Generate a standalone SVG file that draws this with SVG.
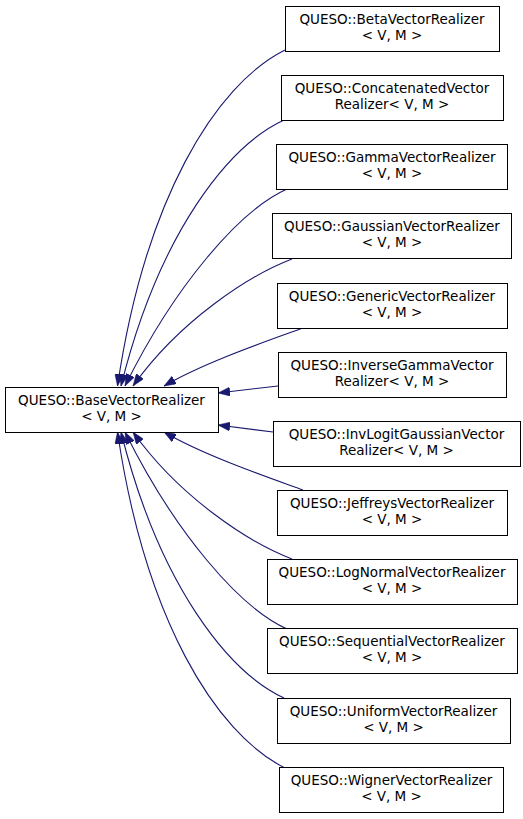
<svg xmlns="http://www.w3.org/2000/svg" width="523" height="819" viewBox="0 0 523 819">
<defs>
<style>
.node rect{fill:#ffffff;stroke:#000000;stroke-width:1}
.node text{font-family:"DejaVu Sans","Liberation Sans",sans-serif;font-size:13.5px;fill:#000000;text-anchor:middle}
.edges path{fill:none;stroke:#191970;stroke-width:1.1;marker-end:url(#arr)}
</style>
<marker id="arr" markerUnits="userSpaceOnUse" markerWidth="12" markerHeight="9" viewBox="0 0 12 9" refX="12" refY="4.5" orient="auto">
<path d="M0,0 L12,4.5 L0,9 z" fill="#191970" stroke="#191970" stroke-width="0.5"/>
</marker>
</defs>
<rect width="523" height="819" fill="#ffffff"/>
<g class="edges">
<path d="M285,50 C215,85 145,200 117.5,386"/>
<path d="M284,120 C230,145 160,230 121,386"/>
<path d="M287,189 C240,210 175,285 125,386"/>
<path d="M292,259 C250,275 180,320 133,386"/>
<path d="M303,328 C270,340 205,362 164,386"/>
<path d="M278,386 L218,393"/>
<path d="M273,432 L218,425"/>
<path d="M303,490 C270,478 205,456 164,432"/>
<path d="M292,559 C250,543 180,498 133,432"/>
<path d="M287,629 C240,608 175,533 125,432"/>
<path d="M284,698 C230,673 160,588 121,432"/>
<path d="M285,768 C215,733 145,618 117.5,432"/>
</g>
<g id="node_base" class="node"><rect x="5.5" y="387.5" width="213" height="45"/><text x="111.5" y="405">QUESO::BaseVectorRealizer</text><text x="111.5" y="421">&lt; V, M &gt;</text></g>
<g id="node_beta" class="node"><rect x="285.5" y="6.5" width="214" height="45"/><text x="392" y="24">QUESO::BetaVectorRealizer</text><text x="392" y="40">&lt; V, M &gt;</text></g>
<g id="node_concat" class="node"><rect x="281.5" y="75.5" width="222" height="45"/><text x="392" y="93">QUESO::ConcatenatedVector</text><text x="392" y="109">Realizer&lt; V, M &gt;</text></g>
<g id="node_gamma" class="node"><rect x="276.5" y="144.5" width="231" height="45"/><text x="392" y="162">QUESO::GammaVectorRealizer</text><text x="392" y="178">&lt; V, M &gt;</text></g>
<g id="node_gaussian" class="node"><rect x="272.5" y="213.5" width="239" height="45"/><text x="392" y="231">QUESO::GaussianVectorRealizer</text><text x="392" y="247">&lt; V, M &gt;</text></g>
<g id="node_generic" class="node"><rect x="277.5" y="283.5" width="230" height="45"/><text x="392" y="301">QUESO::GenericVectorRealizer</text><text x="392" y="317">&lt; V, M &gt;</text></g>
<g id="node_invgamma" class="node"><rect x="278.5" y="352.5" width="228" height="45"/><text x="392" y="370">QUESO::InverseGammaVector</text><text x="392" y="386">Realizer&lt; V, M &gt;</text></g>
<g id="node_invlogit" class="node"><rect x="273.5" y="421.5" width="247" height="45"/><text x="396.5" y="439">QUESO::InvLogitGaussianVector</text><text x="396.5" y="455">Realizer&lt; V, M &gt;</text></g>
<g id="node_jeffreys" class="node"><rect x="277.5" y="490.5" width="230" height="45"/><text x="392" y="508">QUESO::JeffreysVectorRealizer</text><text x="392" y="524">&lt; V, M &gt;</text></g>
<g id="node_lognormal" class="node"><rect x="267.5" y="559.5" width="250" height="45"/><text x="392" y="577">QUESO::LogNormalVectorRealizer</text><text x="392" y="593">&lt; V, M &gt;</text></g>
<g id="node_sequential" class="node"><rect x="267.5" y="628.5" width="250" height="45"/><text x="392" y="646">QUESO::SequentialVectorRealizer</text><text x="392" y="662">&lt; V, M &gt;</text></g>
<g id="node_uniform" class="node"><rect x="277.5" y="698.5" width="233" height="45"/><text x="393.5" y="716">QUESO::UniformVectorRealizer</text><text x="393.5" y="732">&lt; V, M &gt;</text></g>
<g id="node_wigner" class="node"><rect x="279.5" y="767.5" width="224" height="45"/><text x="391.5" y="785">QUESO::WignerVectorRealizer</text><text x="391.5" y="801">&lt; V, M &gt;</text></g>
</svg>
